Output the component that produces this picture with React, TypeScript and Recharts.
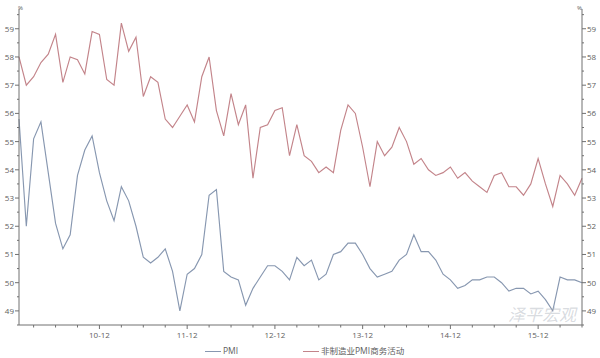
import React from 'react';
import { LineChart, Line, XAxis, YAxis, Legend } from 'recharts';

// ---- data (monthly, 2010-01 .. 2016-06) ----
const startYear = 2010;

const pmi = [
  55.8, 52.0, 55.1, 55.7, 53.9, 52.1, 51.2, 51.7, 53.8, 54.7, 55.2, 53.9,
  52.9, 52.2, 53.4, 52.9, 52.0, 50.9, 50.7, 50.9, 51.2, 50.4, 49.0, 50.3,
  50.5, 51.0, 53.1, 53.3, 50.4, 50.2, 50.1, 49.2, 49.8, 50.2, 50.6, 50.6,
  50.4, 50.1, 50.9, 50.6, 50.8, 50.1, 50.3, 51.0, 51.1, 51.4, 51.4, 51.0,
  50.5, 50.2, 50.3, 50.4, 50.8, 51.0, 51.7, 51.1, 51.1, 50.8, 50.3, 50.1,
  49.8, 49.9, 50.1, 50.1, 50.2, 50.2, 50.0, 49.7, 49.8, 49.8, 49.6, 49.7,
  49.4, 49.0, 50.2, 50.1, 50.1, 50.0,
];

const nonMfg = [
  58.0, 57.0, 57.3, 57.8, 58.1, 58.8, 57.1, 58.0, 57.9, 57.4, 58.9, 58.8,
  57.2, 57.0, 59.2, 58.2, 58.7, 56.6, 57.3, 57.1, 55.8, 55.5, 55.9, 56.3,
  55.7, 57.3, 58.0, 56.1, 55.2, 56.7, 55.6, 56.3, 53.7, 55.5, 55.6, 56.1,
  56.2, 54.5, 55.6, 54.5, 54.3, 53.9, 54.1, 53.9, 55.4, 56.3, 56.0, 54.8,
  53.4, 55.0, 54.5, 54.8, 55.5, 55.0, 54.2, 54.4, 54.0, 53.8, 53.9, 54.1,
  53.7, 53.9, 53.6, 53.4, 53.2, 53.8, 53.9, 53.4, 53.4, 53.1, 53.5, 54.4,
  53.5, 52.7, 53.8, 53.5, 53.1, 53.7,
];

const xTickLabels = ['10-12', '11-12', '12-12', '13-12', '14-12', '15-12'];
const xTickIndex = [11, 23, 35, 47, 59, 71];
const yTicks = [
  48.5, 49, 49.5, 50, 50.5, 51, 51.5, 52, 52.5, 53, 53.5, 54, 54.5,
  55, 55.5, 56, 56.5, 57, 57.5, 58, 58.5, 59, 59.5,
];
const yDomain = [48.5, 59.7];
const legendLabels = ['PMI', '非制造业PMI商务活动'];
const unitLabel = '%';
const watermark = '泽平宏观';

const months = pmi.map(
  (_, i) => `${startYear + Math.floor(i / 12)}-${String((i % 12) + 1).padStart(2, '0')}`
);
const data = months.map((m, i) => ({ i, month: m, pmi: pmi[i], nonMfg: nonMfg[i] }));
const xTicks = months.map((_, i) => i).filter((i) => i % 3 === 2);

// ---- style ----
const FONT = '"Open Sans", "Noto Sans CJK SC", sans-serif';
const AXIS = '#707070';
const TXT = '#606060';
const PMI_C = '#8797b0';
const NON_C = '#c3848a';

const XTick = (props: any) => {
  const { x, y, payload } = props;
  const k = xTickIndex.indexOf(payload.value);
  const major = k >= 0;
  return (
    <g>
      <line x1={x} x2={x} y1={y} y2={y + (major ? 4 : 2.5)} stroke={AXIS} strokeWidth={1} />
      {major && (
        <text x={x} y={y + 13} textAnchor="middle" fontSize={8} fill={TXT} fontFamily={FONT}>
          {xTickLabels[k]}
        </text>
      )}
    </g>
  );
};

const YTick = (props: any) => {
  const { x, y, payload, side } = props;
  const v = payload.value;
  const major = Number.isInteger(v);
  const dir = side === 'left' ? -1 : 1;
  return (
    <g>
      <line x1={x} x2={x + dir * (major ? 4 : 2)} y1={y} y2={y} stroke={AXIS} strokeWidth={1} />
      {major && (
        <text
          x={x + dir * 5}
          y={y + 3}
          textAnchor={side === 'left' ? 'end' : 'start'}
          fontSize={8}
          fill={TXT}
          fontFamily={FONT}
        >
          {v}
        </text>
      )}
    </g>
  );
};

const LegendContent = () => (
  <div style={{ position: 'relative', width: 600, height: 14, fontFamily: FONT, fontSize: 8.5, color: TXT }}>
    <div style={{ position: 'absolute', left: 205, top: 7, width: 16, borderTop: `1.2px solid ${PMI_C}` }} />
    <span style={{ position: 'absolute', left: 223, top: 1, lineHeight: '12px', whiteSpace: 'nowrap' }}>
      {legendLabels[0]}
    </span>
    <div style={{ position: 'absolute', left: 303, top: 7, width: 16, borderTop: `1.2px solid ${NON_C}` }} />
    <span style={{ position: 'absolute', left: 321, top: 1, lineHeight: '12px', whiteSpace: 'nowrap' }}>
      {legendLabels[1]}
    </span>
  </div>
);

export default function App() {
  return (
    <div style={{ position: 'absolute', left: 0, top: 0, width: 600, height: 358, background: '#fff' }}>
      <LineChart width={600} height={358} data={data} margin={{ top: 9, right: 0, bottom: 0, left: 0 }}>
        <XAxis
          dataKey="i"
          type="number"
          domain={[0, 77]}
          ticks={xTicks}
          interval={0}
          height={33}
          tickSize={0}
          tickMargin={0}
          tickLine={false}
          axisLine={{ stroke: AXIS }}
          tick={<XTick />}
        />
        <YAxis
          yAxisId="l"
          orientation="left"
          type="number"
          domain={yDomain}
          ticks={yTicks}
          interval={0}
          width={19}
          tickSize={0}
          tickMargin={0}
          tickLine={false}
          axisLine={{ stroke: AXIS }}
          tick={<YTick side="left" />}
          allowDataOverflow
        />
        <YAxis
          yAxisId="r"
          orientation="right"
          type="number"
          domain={yDomain}
          ticks={yTicks}
          interval={0}
          width={18}
          tickSize={0}
          tickMargin={0}
          tickLine={false}
          axisLine={{ stroke: AXIS }}
          tick={<YTick side="right" />}
          allowDataOverflow
        />
        <Legend
          layout="horizontal"
          verticalAlign="middle"
          align="center"
          wrapperStyle={{ top: 344, left: 0, width: 600, height: 14 }}
          content={<LegendContent />}
        />
        <Line
          yAxisId="l"
          dataKey="pmi"
          name={legendLabels[0]}
          stroke={PMI_C}
          strokeWidth={1.15}
          dot={false}
          isAnimationActive={false}
        />
        <Line
          yAxisId="l"
          dataKey="nonMfg"
          name={legendLabels[1]}
          stroke={NON_C}
          strokeWidth={1.15}
          dot={false}
          isAnimationActive={false}
        />
      </LineChart>
      <div style={{ position: 'absolute', left: 18, top: 4, fontSize: 6, color: TXT, fontFamily: FONT }}>{unitLabel}</div>
      <div style={{ position: 'absolute', left: 577, top: 4, fontSize: 6, color: TXT, fontFamily: FONT }}>{unitLabel}</div>
      <div
        style={{
          position: 'absolute',
          left: 508,
          top: 305,
          fontSize: 17,
          lineHeight: '18px',
          fontStyle: 'italic',
          color: 'rgba(170,175,185,0.45)',
          fontFamily: '"Noto Sans CJK SC", sans-serif',
          whiteSpace: 'nowrap',
          pointerEvents: 'none',
        }}
      >
        {watermark}
      </div>
    </div>
  );
}
